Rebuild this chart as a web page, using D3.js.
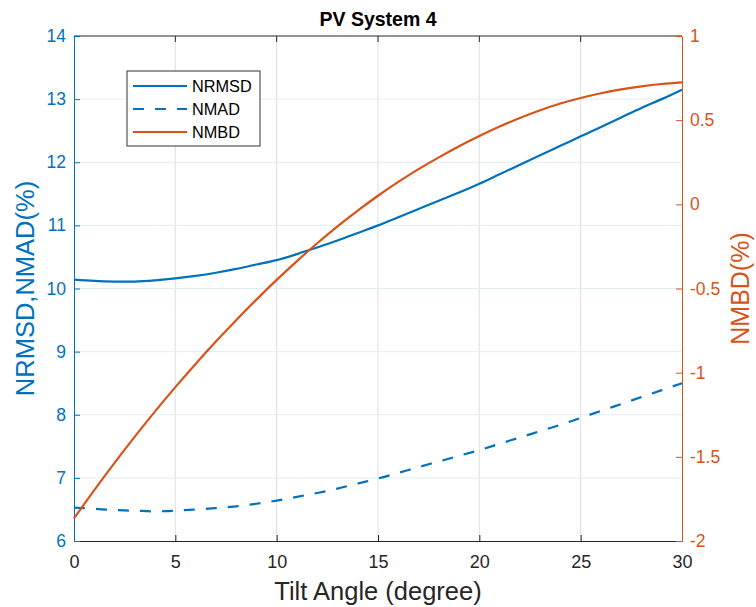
<!DOCTYPE html>
<html>
<head>
<meta charset="utf-8">
<style>
body { margin: 0; background: #fff; }
svg { font-family: "Liberation Sans", Arial, sans-serif; }
</style>
</head>
<body>
<svg id="chart" width="756" height="607"></svg>
<script src="https://d3js.org/d3.v7.min.js"></script>
<script>
// tilt angle (degree)
let tilt = d3.range(0, 31);
let nrmsd = [10.14, 10.12, 10.11, 10.11, 10.13, 10.16, 10.20, 10.25, 10.31, 10.38,
    10.45, 10.545, 10.65, 10.76, 10.88, 11.00, 11.13, 11.26, 11.39, 11.52,
    11.66, 11.81, 11.96, 12.11, 12.26, 12.41, 12.56, 12.71, 12.86, 13.00, 13.15];
let nmad = [6.53, 6.51, 6.49, 6.48, 6.47, 6.48, 6.50, 6.52, 6.55, 6.59,
    6.64, 6.70, 6.76, 6.83, 6.91, 6.99, 7.08, 7.17, 7.26, 7.35,
    7.44, 7.54, 7.64, 7.74, 7.84, 7.95, 8.06, 8.17, 8.28, 8.39, 8.50];
let nmbd = [-1.865, -1.698, -1.536, -1.380, -1.230, -1.086, -0.948, -0.815, -0.688, -0.566,
    -0.449, -0.337, -0.231, -0.131, -0.037, 0.051, 0.133, 0.209, 0.279, 0.345,
    0.406, 0.462, 0.513, 0.559, 0.599, 0.632, 0.660, 0.683, 0.701, 0.715, 0.725];
let xTicks = [0, 5, 10, 15, 20, 25, 30];
let leftTicks = [6, 7, 8, 9, 10, 11, 12, 13, 14];
let rightTicks = [-2, -1.5, -1, -0.5, 0, 0.5, 1];

let blue = "#0072BD", orange = "#D95319", dark = "#262626";
let margin = {top: 36, right: 74, bottom: 66, left: 74},
    width = 756 - margin.left - margin.right,
    height = 607 - margin.top - margin.bottom;
let font = "Liberation Sans, Arial, sans-serif";

let svg = d3.select("#chart");
let chart = svg.append("g")
    .attr("transform", "translate(" + margin.left + "," + margin.top + ")");

let xScale = d3.scaleLinear().domain([0, 30]).range([0, width]);
let yLeft = d3.scaleLinear().domain([6, 14]).range([height, 0]);
let yRight = d3.scaleLinear().domain([-2, 1]).range([height, 0]);

// grid
chart.append("g").selectAll("line")
    .data(xTicks.slice(1, -1))
    .join("line")
    .attr("x1", d => xScale(d)).attr("x2", d => xScale(d))
    .attr("y1", 0).attr("y2", height)
    .attr("stroke", "#dcdfe3").attr("stroke-width", 1);
chart.append("g").selectAll("line")
    .data(leftTicks.slice(1, -1))
    .join("line")
    .attr("x1", 0).attr("x2", width)
    .attr("y1", d => yLeft(d)).attr("y2", d => yLeft(d))
    .attr("stroke", "#e1edf6").attr("stroke-width", 1);

// box top
chart.append("line")
    .attr("x1", 0).attr("x2", width).attr("y1", 0).attr("y2", 0)
    .attr("stroke", dark).attr("stroke-width", 1);
// top ticks
chart.append("g").selectAll("line")
    .data(xTicks.slice(1, -1))
    .join("line")
    .attr("x1", d => xScale(d)).attr("x2", d => xScale(d))
    .attr("y1", 0).attr("y2", 6)
    .attr("stroke", dark);

// x axis
let xAxis = chart.append("g")
    .attr("transform", "translate(0," + height + ")")
    .call(d3.axisBottom(xScale).tickValues(xTicks).tickSizeInner(-6).tickSizeOuter(0).tickPadding(14));
xAxis.select(".domain").attr("stroke", dark);
xAxis.selectAll(".tick line").attr("stroke", dark);
xAxis.selectAll(".tick text").attr("fill", dark).attr("font-size", 18).attr("font-family", font);

// left axis
let lAxis = chart.append("g")
    .call(d3.axisLeft(yLeft).tickValues(leftTicks).tickSizeInner(-6).tickSizeOuter(0).tickPadding(8));
lAxis.select(".domain").attr("stroke", blue);
lAxis.selectAll(".tick line").attr("stroke", blue);
lAxis.selectAll(".tick text").attr("fill", blue).attr("font-size", 17.5).attr("font-family", font);

// right axis
let rAxis = chart.append("g")
    .attr("transform", "translate(" + width + ",0)")
    .call(d3.axisRight(yRight).tickValues(rightTicks).tickSizeInner(-6).tickSizeOuter(0).tickPadding(8)
        .tickFormat(d => String(d)));
rAxis.select(".domain").attr("stroke", orange);
rAxis.selectAll(".tick line").attr("stroke", orange);
rAxis.selectAll(".tick text").attr("fill", orange).attr("font-size", 17.5).attr("font-family", font);

// lines
let lineL = d3.line().x((d, i) => xScale(tilt[i])).y(d => yLeft(d)).curve(d3.curveCatmullRom);
let lineR = d3.line().x((d, i) => xScale(tilt[i])).y(d => yRight(d)).curve(d3.curveCatmullRom);

chart.append("path").datum(nmad)
    .attr("d", lineL).attr("fill", "none")
    .attr("stroke", blue).attr("stroke-width", 2.2).attr("stroke-dasharray", "11,11");
chart.append("path").datum(nrmsd)
    .attr("d", lineL).attr("fill", "none")
    .attr("stroke", blue).attr("stroke-width", 2.2);
chart.append("path").datum(nmbd)
    .attr("d", lineR).attr("fill", "none")
    .attr("stroke", orange).attr("stroke-width", 2.2);

// legend
let legend = svg.append("g").attr("transform", "translate(127,71)");
legend.append("rect")
    .attr("width", 133).attr("height", 75)
    .attr("fill", "#fff").attr("stroke", "#333").attr("stroke-width", 1);
let items = [
    {name: "NRMSD", color: blue, dash: null},
    {name: "NMAD", color: blue, dash: "11,11"},
    {name: "NMBD", color: orange, dash: null}
];
items.forEach((it, i) => {
    let y = 15 + i * 23;
    legend.append("line")
        .attr("x1", 6).attr("x2", 60).attr("y1", y).attr("y2", y)
        .attr("stroke", it.color).attr("stroke-width", 2.2)
        .attr("stroke-dasharray", it.dash);
    legend.append("text")
        .attr("x", 65).attr("y", y + 6)
        .attr("font-size", 16.3).attr("fill", "#000")
        .text(it.name);
});

// title and labels
svg.append("text")
    .attr("x", margin.left + width / 2).attr("y", 26)
    .attr("text-anchor", "middle").attr("font-size", 19.5).attr("font-weight", "bold")
    .attr("fill", "#000").text("PV System 4");
svg.append("text")
    .attr("x", margin.left + width / 2).attr("y", 600)
    .attr("text-anchor", "middle").attr("font-size", 25.5).attr("fill", dark)
    .text("Tilt Angle (degree)");
svg.append("text")
    .attr("transform", "translate(34," + (margin.top + height / 2) + ") rotate(-90)")
    .attr("text-anchor", "middle").attr("font-size", 25.5).attr("fill", blue)
    .text("NRMSD,NMAD(%)");
svg.append("text")
    .attr("transform", "translate(749," + (margin.top + height / 2) + ") rotate(-90)")
    .attr("text-anchor", "middle").attr("font-size", 25).attr("fill", orange)
    .text("NMBD(%)");
</script>
</body>
</html>
